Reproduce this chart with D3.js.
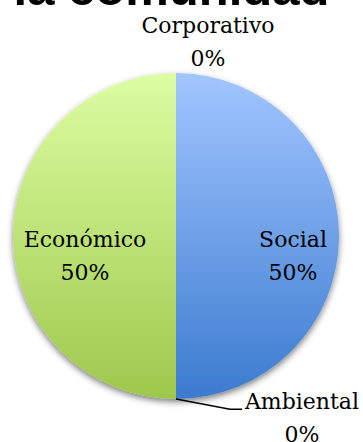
<!DOCTYPE html>
<html>
<head>
<meta charset="utf-8">
<script src="https://cdn.jsdelivr.net/npm/d3@7"></script>
<style>
  html, body { margin: 0; padding: 0; background: #fff; }
  svg { display: block; }
</style>
</head>
<body>
<svg id="chart" width="363" height="442"></svg>
<script>
// Slices in drawing order, clockwise from 12 o'clock
const categories = ["Social", "Ambiental", "Económico", "Corporativo"];
const values = [50, 0, 50, 0];
const titleText = "la comunidad";

const cx = 176, cy = 236, R = 163;

const svg = d3.select("#chart");
const defs = svg.append("defs");

// Vertical gradients spanning the pie (coordinates are local to the pie group)
const gradients = {
  "Social":      ["#a2c6ff", "#3b7bcf"],
  "Ambiental":   ["#c0504d", "#9c3b38"],
  "Económico":   ["#ddfda2", "#9ec84c"],
  "Corporativo": ["#8064a2", "#5f4a7a"]
};
categories.forEach((c, i) => {
  const g = defs.append("linearGradient")
    .attr("id", "grad" + i)
    .attr("gradientUnits", "userSpaceOnUse")
    .attr("x1", 0).attr("y1", -R)
    .attr("x2", 0).attr("y2", R);
  g.append("stop").attr("offset", "0%").attr("stop-color", gradients[c][0]);
  g.append("stop").attr("offset", "100%").attr("stop-color", gradients[c][1]);
});

const shadow = defs.append("filter").attr("id", "shadow")
  .attr("x", "-20%").attr("y", "-20%").attr("width", "140%").attr("height", "140%");
shadow.append("feDropShadow")
  .attr("dx", 0).attr("dy", 3).attr("stdDeviation", 3)
  .attr("flood-color", "#000").attr("flood-opacity", 0.5);

// Title (mostly above the visible area)
svg.append("text")
  .attr("x", 171.5).attr("y", 4.5)
  .attr("text-anchor", "middle")
  .attr("font-family", "'Liberation Sans', Arial, sans-serif")
  .attr("font-weight", "bold")
  .attr("font-size", 49)
  .attr("fill", "#000")
  .text(titleText);

const pie = d3.pie().sort(null).value(d => d)(values);
const arc = d3.arc().innerRadius(0).outerRadius(R);
const total = d3.sum(values);
const pct = v => d3.format(".0%")(total ? v / total : 0);

const g = svg.append("g").attr("transform", `translate(${cx},${cy})`);
g.append("g").attr("filter", "url(#shadow)")
  .selectAll("path")
  .data(pie.filter(d => d.value > 0))
  .join("path")
  .attr("d", arc)
  .attr("fill", d => `url(#grad${d.index})`);

// Label placement: distance from centre (fraction of R) and nudges
const labelLayout = {
  "Social":      { k: 0.64, dx: 12.7,  dy: 16.5 },
  "Económico":   { k: 0.64, dx: 13.3,  dy: 16.5 },
  "Corporativo": { k: 1.0,  dx: 32,    dy: -34.5 },
  "Ambiental":   { k: 1.0,  dx: 126,   dy: 15.5 }
};

const fontFamily = "'DejaVu Serif', Cambria, serif";
const lineGap = 32.5;

pie.forEach(d => {
  const name = categories[d.index];
  const L = labelLayout[name];
  const a = (d.startAngle + d.endAngle) / 2;
  const px = Math.sin(a) * R * L.k + L.dx;
  const py = -Math.cos(a) * R * L.k + L.dy;
  const y1 = py - lineGap / 2 + 11;
  const t = g.append("text")
    .attr("text-anchor", "middle")
    .attr("font-family", fontFamily)
    .attr("font-size", 22)
    .attr("fill", "#000");
  t.append("tspan").attr("x", px).attr("y", y1).text(name);
  t.append("tspan").attr("x", px).attr("y", y1 + lineGap).text(pct(d.value));

  if (name === "Ambiental") {
    // Leader line from the slice's edge to its label
    const ex = Math.sin(a) * R, ey = -Math.cos(a) * R;
    const lx = px - 60, ly = y1;
    g.append("polyline")
      .attr("points", [[ex, ey], [lx - 12, ly], [lx, ly]].map(p => p.join(",")).join(" "))
      .attr("fill", "none")
      .attr("stroke", "#000")
      .attr("stroke-width", 1.5);
  }
});
</script>
</body>
</html>
